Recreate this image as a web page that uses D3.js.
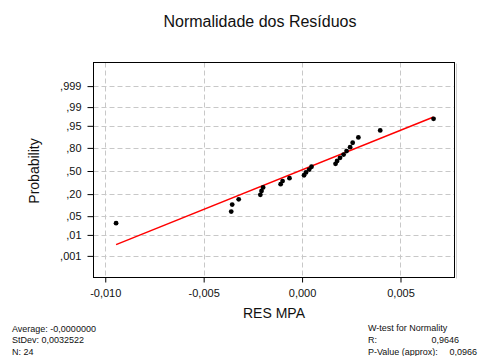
<!DOCTYPE html>
<html><head><meta charset="utf-8">
<script src="https://cdn.jsdelivr.net/npm/d3@7"></script>
<style>body{margin:0;background:#fff;} svg{display:block;font-family:"Liberation Sans",Arial,sans-serif;}</style>
</head><body>
<svg id="c" width="478" height="356"></svg>
<script>
// residuals (sorted)
const residuals = [-0.00945,-0.00360,-0.00355,-0.00322,-0.00212,-0.00206,-0.00198,-0.00109,-0.00099,-0.00064,
  0.00010,0.00020,0.00036,0.00048,0.00170,0.00178,0.00193,0.00211,0.00226,0.00244,0.00257,0.00286,0.00397,0.00668];
const probTicks = [0.001,0.01,0.05,0.20,0.50,0.80,0.95,0.99,0.999];
const probLabels = [",001",",01",",05",",20",",50",",80",",95",",99",",999"];
const xTicks = [-0.010,-0.005,0.000,0.005];
const xLabels = ["-0,010","-0,005","0,000","0,005"];
const fitMean = -0.00015, fitSd = 0.00347;
const leftStats = ["Average: -0,0000000","StDev: 0,0032522","N: 24"];
const rightStatsLabels = ["W-test for Normality","R:","P-Value (approx):"];
const rightStatsValues = ["","0,9646","0,0966"];

function probit(p){
  const a=[-3.969683028665376e+01,2.209460984245205e+02,-2.759285104469687e+02,1.383577518672690e+02,-3.066479806614716e+01,2.506628277459239e+00];
  const b=[-5.447609879822406e+01,1.615858368580409e+02,-1.556989798598866e+02,6.680131188771972e+01,-1.328068155288572e+01];
  const c=[-7.784894002430293e-03,-3.223964580411365e-01,-2.400758277161838e+00,-2.549732539343734e+00,4.374664141464968e+00,2.938163982698783e+00];
  const d=[7.784695709041462e-03,3.224671290700398e-01,2.445134137142996e+00,3.754408661907416e+00];
  const pl=0.02425;let q,r;
  if(p<pl){q=Math.sqrt(-2*Math.log(p));return (((((c[0]*q+c[1])*q+c[2])*q+c[3])*q+c[4])*q+c[5])/((((d[0]*q+d[1])*q+d[2])*q+d[3])*q+1);}
  if(p>1-pl){q=Math.sqrt(-2*Math.log(1-p));return -(((((c[0]*q+c[1])*q+c[2])*q+c[3])*q+c[4])*q+c[5])/((((d[0]*q+d[1])*q+d[2])*q+d[3])*q+1);}
  q=p-0.5;r=q*q;return (((((a[0]*r+a[1])*r+a[2])*r+a[3])*r+a[4])*r+a[5])*q/(((((b[0]*r+b[1])*r+b[2])*r+b[3])*r+b[4])*r+1);
}

const svg = d3.select("#c");
const L=93.5, R=454.5, T=62.5, B=277.5;
const x = d3.scaleLinear().domain([-0.010597,0.007744]).range([L,R]);
const y = d3.scaleLinear().domain([-3.877,3.95]).range([B,T]);
const n = residuals.length;
const pts = residuals.map((v,i)=>({v, z: probit((i+1-0.3)/(n+0.4))}));

// grid
const g = svg.append("g");
g.selectAll("line.gx").data(xTicks).join("line")
  .attr("x1",d=>Math.round(x(d))+0.5).attr("x2",d=>Math.round(x(d))+0.5).attr("y1",T).attr("y2",B)
  .attr("stroke","#c8c8c8").attr("stroke-dasharray","5,3");
g.selectAll("line.gy").data(probTicks).join("line")
  .attr("y1",d=>Math.round(y(probit(d)))+0.5).attr("y2",d=>Math.round(y(probit(d)))+0.5).attr("x1",L).attr("x2",R)
  .attr("stroke","#c8c8c8").attr("stroke-dasharray","5,3");

// axes
const ya = svg.append("g").attr("transform",`translate(${L},0)`)
  .call(d3.axisLeft(y).tickValues(probTicks.map(probit)).tickSize(6).tickPadding(6)
    .tickFormat((d,i)=>probLabels[i]));
const xa = svg.append("g").attr("transform",`translate(0,${B})`)
  .call(d3.axisBottom(x).tickValues(xTicks).tickSize(5).tickPadding(7)
    .tickFormat((d,i)=>xLabels[i]));
[ya,xa].forEach(a=>{a.select(".domain").remove();a.selectAll("text").attr("font-size",11).attr("fill","#111").attr("font-family","Liberation Sans, Arial, sans-serif");a.selectAll("line").attr("stroke","#000");});

// frame
svg.append("rect").attr("x",L).attr("y",T).attr("width",R-L).attr("height",B-T)
  .attr("fill","none").attr("stroke","#000");
svg.append("line").attr("x1",R+2).attr("x2",R+2).attr("y1",T+1).attr("y2",B+1).attr("stroke","#ccc");

// fit line
const ext = d3.extent(residuals);
svg.append("line")
  .attr("x1",x(ext[0])).attr("y1",y((ext[0]-fitMean)/fitSd))
  .attr("x2",x(ext[1])).attr("y2",y((ext[1]-fitMean)/fitSd))
  .attr("stroke","#f00").attr("stroke-width",1.5);

// points
svg.selectAll("circle.p").data(pts).join("circle")
  .attr("cx",d=>x(d.v)).attr("cy",d=>y(d.z)).attr("r",2.4).attr("fill","#000");

// titles
svg.append("text").attr("x",260).attr("y",27).attr("text-anchor","middle").attr("font-size",16).attr("fill","#111").text("Normalidade dos Resíduos");
svg.append("text").attr("x",274).attr("y",318).attr("text-anchor","middle").attr("font-size",14).attr("fill","#111").text("RES MPA");
svg.append("text").attr("transform","translate(39,171) rotate(-90)").attr("text-anchor","middle").attr("font-size",14).attr("fill","#111").text("Probability");

// stats
svg.selectAll("text.ls").data(leftStats).join("text")
  .attr("x",12).attr("y",(d,i)=>331.5+i*11.7).attr("font-size",9).attr("fill","#111").text(d=>d);
svg.selectAll("text.rs").data(rightStatsLabels).join("text")
  .attr("x",368).attr("y",(d,i)=>330.5+i*12).attr("font-size",9).attr("fill","#111").text(d=>d);
svg.selectAll("text.rv").data(rightStatsValues).join("text")
  .attr("x",(d,i)=>i===2?477:459).attr("text-anchor","end").attr("y",(d,i)=>330.5+i*12).attr("font-size",9).attr("fill","#111").text(d=>d);
</script>
</body></html>
